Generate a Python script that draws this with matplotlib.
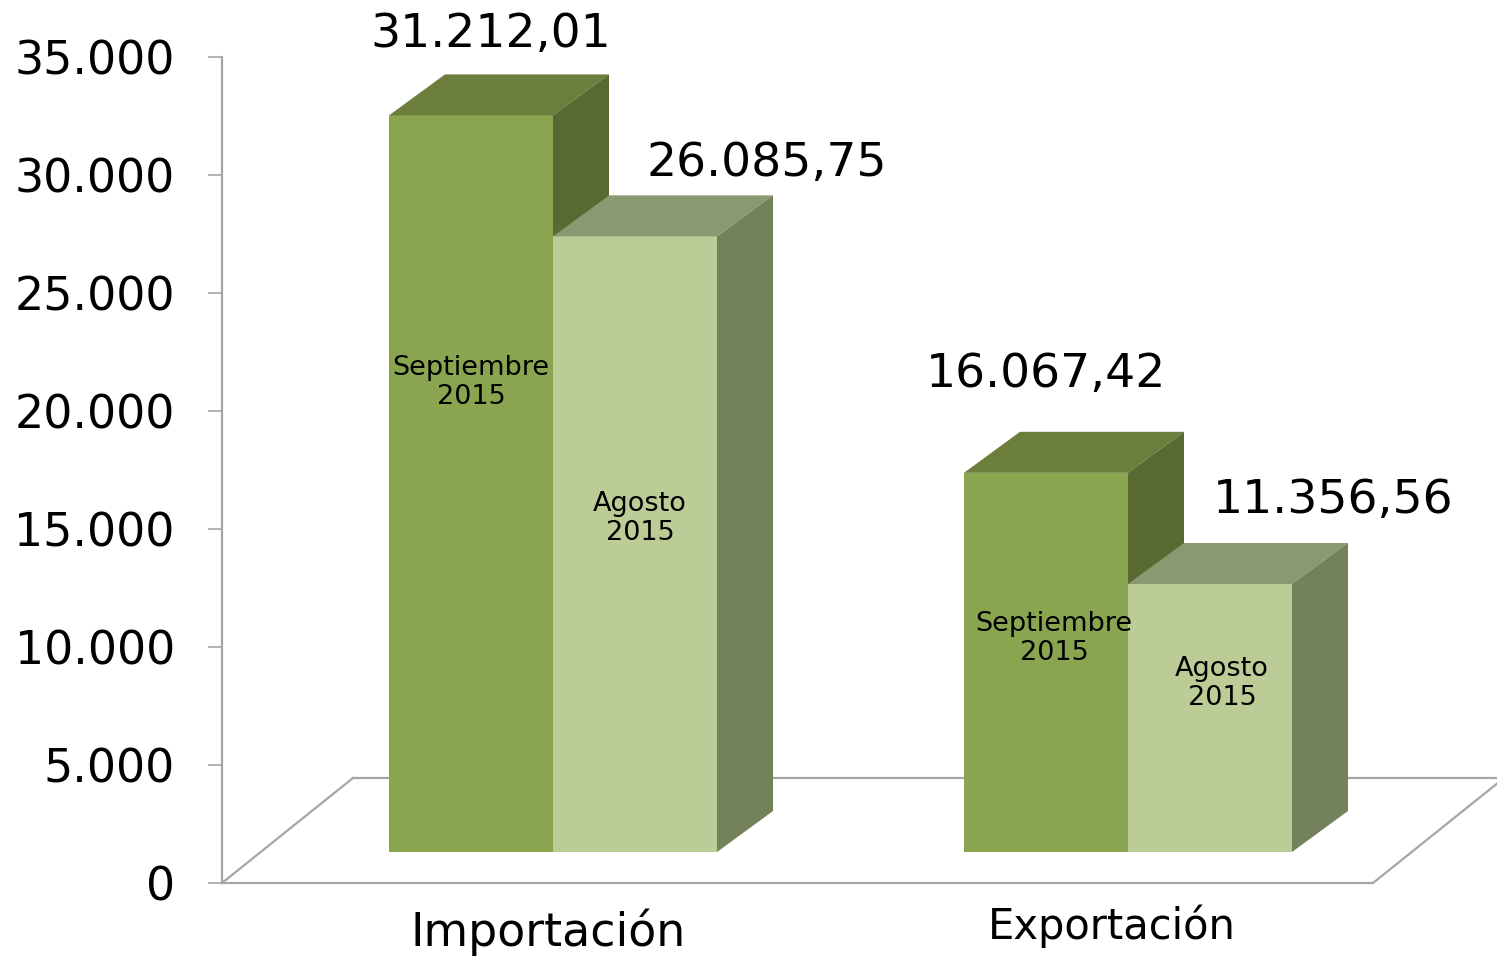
import matplotlib
matplotlib.use('Agg')
import matplotlib.pyplot as plt
from matplotlib.patches import Polygon

# data
categories = ['Importación', 'Exportación']
series_names = ['Septiembre\n2015', 'Agosto\n2015']
septiembre = [31212.01, 16067.42]
agosto = [26085.75, 11356.56]
labels_sep = ['31.212,01', '16.067,42']
labels_ago = ['26.085,75', '11.356,56']
yticks = [0, 5000, 10000, 15000, 20000, 25000, 30000, 35000]
ytick_labels = ['0', '5.000', '10.000', '15.000', '20.000', '25.000', '30.000', '35.000']

# colours (front, top, side)
sep_cols = ('#8AA54F', '#6B7E3B', '#586A31')
ago_cols = ('#BBCC96', '#8B9970', '#74825C')
line_col = '#A6A6A6'

plt.rcParams['font.family'] = ['DejaVu Sans']

W, H = 1497, 956
fig = plt.figure(figsize=(W / 100, H / 100), dpi=100)
ax = fig.add_axes([222 / W, 73 / H, (W - 222) / W, 826 / H])
ax.set_ylim(0, 35000)
ax.set_xlim((222 - 553) / 575, (W - 553) / 575)

# pixel -> data unit helpers
px_x = 1 / 575
px_y = 5000 / 118
bar_w = 164 * px_x
base = 31 * px_y
dx, dy = 56 * px_x, 41 * px_y


def bar3d(x_left, vals, cols, z):
    bars = ax.bar(x_left, vals, width=bar_w, bottom=base, align='edge',
                  color=cols[0], linewidth=0, zorder=z)
    for b in bars:
        xl = b.get_x()
        xr = xl + b.get_width()
        bot = b.get_y()
        top = bot + b.get_height()
        ax.add_patch(Polygon([(xl, top), (xl + dx, top + dy), (xr + dx, top + dy), (xr, top)],
                             closed=True, facecolor=cols[1], linewidth=0, zorder=z))
        ax.add_patch(Polygon([(xr, bot), (xr, top), (xr + dx, top + dy), (xr + dx, bot + dy)],
                             closed=True, facecolor=cols[2], linewidth=0, zorder=z))
    return bars


x = list(range(len(categories)))
bars_sep = bar3d([c - bar_w for c in x], septiembre, sep_cols, 3)
bars_ago = bar3d(x, agosto, ago_cols, 4)

# floor outline
x0 = ax.get_xlim()[0]
x1 = (1373 - 553) / 575
fdx, fdy = 131 * px_x, 105 * px_y
ax.plot([x0, x1], [0, 0], color=line_col, lw=1.6, zorder=1, clip_on=False)
ax.plot([x0, x0 + fdx], [0, fdy], color=line_col, lw=1.6, zorder=1)
ax.plot([x0 + fdx, x1 + fdx + 0.2], [fdy, fdy], color=line_col, lw=1.6, zorder=1)
ax.plot([x1, x1 + fdx], [0, fdy], color=line_col, lw=1.6, zorder=1)

# axis styling
for s in ['top', 'right', 'bottom']:
    ax.spines[s].set_visible(False)
ax.spines['left'].set_color(line_col)
ax.spines['left'].set_linewidth(1.6)
ax.set_xticks([])
ax.set_yticks(yticks)
ax.set_yticklabels(ytick_labels)
ax.tick_params(axis='y', direction='out', length=10, width=1.2, color=line_col,
               pad=24, labelsize=33)

# value labels (offsets in px from front-top centre)
val_off_sep = [(20, 81), (0, 98)]
val_off_ago = [(132, 73), (123, 83)]
# inside labels (offsets in px from front-top centre)
in_off_sep = [(0, -267), (8, -166)]
in_off_ago = [(5, -282), (12, -100)]

for bars, labels, voff, ioff, name in [(bars_sep, labels_sep, val_off_sep, in_off_sep, series_names[0]),
                                       (bars_ago, labels_ago, val_off_ago, in_off_ago, series_names[1])]:
    for b, lab, vo, io in zip(bars, labels, voff, ioff):
        cx = b.get_x() + b.get_width() / 2
        top = b.get_y() + b.get_height()
        ax.annotate(lab, (cx, top), xytext=(vo[0] * 0.72, vo[1] * 0.72),
                    textcoords='offset points', ha='center', va='center',
                    fontsize=34, color='black', zorder=6)
        ax.annotate(name, (cx, top), xytext=(io[0] * 0.72, io[1] * 0.72),
                    textcoords='offset points', ha='center', va='center',
                    fontsize=19.5, color='black', linespacing=1.15, zorder=6)

# category labels
cat_off = [(-5, -49), (-16, -43)]
cat_size = [33, 30]
for c, name, off, fs in zip(x, categories, cat_off, cat_size):
    ax.annotate(name, (c, 0), xytext=(off[0] * 0.72, off[1] * 0.72),
                textcoords='offset points', ha='center', va='center',
                fontsize=fs, color='black', annotation_clip=False)

fig.savefig('out.png', dpi=100)
